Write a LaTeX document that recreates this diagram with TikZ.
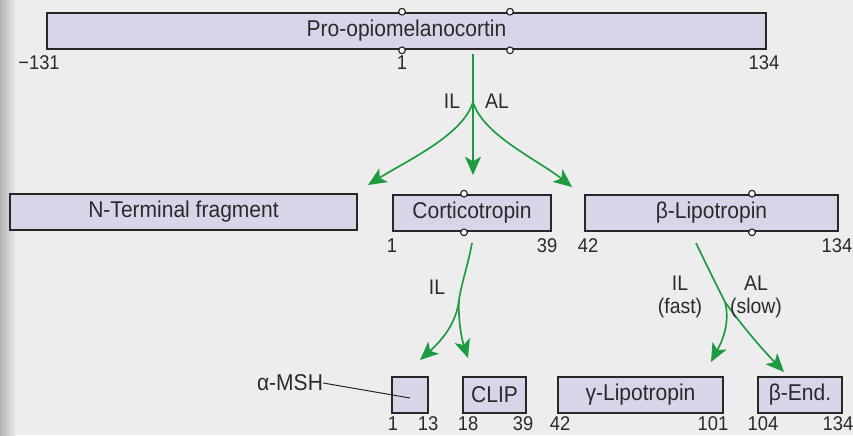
\documentclass[tikz,border=0pt]{standalone}
\usepackage{fontspec}
\setmainfont{Liberation Sans}
\newfontfamily\narrowsans[FakeStretch=0.92]{Liberation Sans}
\usetikzlibrary{arrows.meta}

\definecolor{paper}{HTML}{EDEDED}
\definecolor{peptide}{HTML}{D8D5E9}
\definecolor{edge}{HTML}{2A2626}
\definecolor{cleave}{HTML}{1E9A40}
\definecolor{ink}{HTML}{2A2A2A}

\tikzset{
  chain/.style={draw=edge, line width=0.8mm, fill=peptide, minimum height=10.8mm,
    inner sep=0pt, text=ink, font=\narrowsans\fontsize{19.5}{21}\selectfont},
  resnum/.style={text=ink, inner sep=0pt, font=\narrowsans\fontsize{17}{18}\selectfont},
  tissue/.style={text=ink, inner sep=0pt, align=center, font=\narrowsans\fontsize{18}{20}\selectfont},
  site/.style={draw=edge, line width=0.35mm, fill=white},
  cut/.style={draw=cleave, line width=0.5mm},
  cutarrow/.style={cut, -{Stealth[length=5.5mm, width=4.8mm, inset=1.4mm]}},
}

\begin{document}
\begin{tikzpicture}[x=0.3mm, y=-0.3mm]
    \useasboundingbox (0,0) rectangle (853,435);
    \fill[paper] (0,0) rectangle (853,435);
    \shade[left color=black!30, right color=paper] (0,0) rectangle (16,435);

    % precursor
    \node[chain, minimum width=215.7mm] (pomc) at (406.5,31) {Pro-opiomelanocortin};
    \foreach \x in {402,510} {
        \draw[site] (\x,0 |- pomc.north) circle (1mm);
        \draw[site] (\x,0 |- pomc.south) circle (1mm);
    }
    \node[resnum] (pomc-a) at (39,63)  {−131};
    \node[resnum] (pomc-b) at (402,63) {1};
    \node[resnum] (pomc-c) at (764,63) {134};

    % first cleavage
    \coordinate (split) at (473,102);
    \coordinate (to-nt)  at (368,185);
    \coordinate (to-acth) at (473,175);
    \coordinate (to-blph) at (572,187);
    \draw[cut, shorten <=1.2mm] (split |- pomc.south) -- (split);
    \draw[cutarrow] (split) .. controls (463,135) and (408,160) .. (to-nt);
    \draw[cutarrow] (split) -- (to-acth);
    \draw[cutarrow] (split) .. controls (483,135) and (538,160) .. (to-blph);
    \node[tissue] (il-a) at (452,101) {IL};
    \node[tissue] (al-a) at (497,101) {AL};

    % intermediates
    \node[chain, minimum width=104.1mm] (nterm) at (183.5,212) {N-Terminal fragment};
    \node[chain, minimum width=47.4mm] (acth) at (472,213) {Corticotropin};
    \node[chain, minimum width=75.9mm] (blph) at (711.5,213) {β-Lipotropin};
    \draw[site] (464,0 |- acth.north) circle (1mm);
    \draw[site] (464,0 |- acth.south) circle (1mm);
    \draw[site] (752,0 |- blph.north) circle (1mm);
    \draw[site] (752,0 |- blph.south) circle (1mm);
    \node[resnum] (acth-a) at (392,246) {1};
    \node[resnum] (acth-b) at (547,246) {39};
    \node[resnum] (blph-a) at (588,246) {42};
    \node[resnum] (blph-b) at (837,246) {134};

    % corticotropin split
    \coordinate (acth-top) at (472,243);
    \coordinate (acth-split) at (459,300);
    \coordinate (to-msh) at (420,360);
    \coordinate (to-clip) at (468,358);
    \draw[cut] (acth-top) .. controls (468,265) and (461,285) .. (acth-split);
    \draw[cutarrow] (acth-split) .. controls (456,325) and (440,342) .. (to-msh);
    \draw[cutarrow] (acth-split) .. controls (458,322) and (462,340) .. (to-clip);
    \node[tissue] (il-b) at (437,287) {IL};

    % lipotropin split
    \coordinate (blph-top) at (696,243);
    \coordinate (blph-split) at (725,302);
    \coordinate (to-glph) at (711,362);
    \coordinate (to-bend) at (784,372);
    \draw[cut] (blph-top) .. controls (705,262) and (716,284) .. (blph-split);
    \draw[cutarrow] (blph-split) .. controls (731,325) and (720,345) .. (to-glph);
    \draw[cutarrow] (blph-split) .. controls (745,330) and (765,352) .. (to-bend);
    \node[tissue] (il-c) at (680,297) {IL\\(fast)};
    \node[tissue] (al-c) at (756,297) {AL\\(slow)};

    % products
    \node[chain, minimum width=10.8mm] (amsh) at (410,395) {};
    \node[chain, minimum width=18.9mm] (clip) at (494.5,395) {CLIP};
    \node[chain, minimum width=49.5mm] (glph) at (640.5,395) {γ-Lipotropin};
    \node[chain, minimum width=25.2mm] (bend) at (800,395) {β-End.};
    \node[text=ink, inner sep=0pt, font=\narrowsans\fontsize{19.5}{21}\selectfont] (amsh-tag) at (290,383) {α-MSH};
    \draw[edge, line width=0.3mm] (amsh-tag.east) -- ([yshift=-0.9mm]amsh.center);
    \node[resnum] (amsh-a) at (393,424) {1};
    \node[resnum] (amsh-b) at (428,424) {13};
    \node[resnum] (clip-a) at (468,424) {18};
    \node[resnum] (clip-b) at (523,424) {39};
    \node[resnum] (glph-a) at (560,424) {42};
    \node[resnum] (glph-b) at (713,424) {101};
    \node[resnum] (bend-a) at (763,424) {104};
    \node[resnum] (bend-b) at (838,424) {134};
\end{tikzpicture}
\end{document}
